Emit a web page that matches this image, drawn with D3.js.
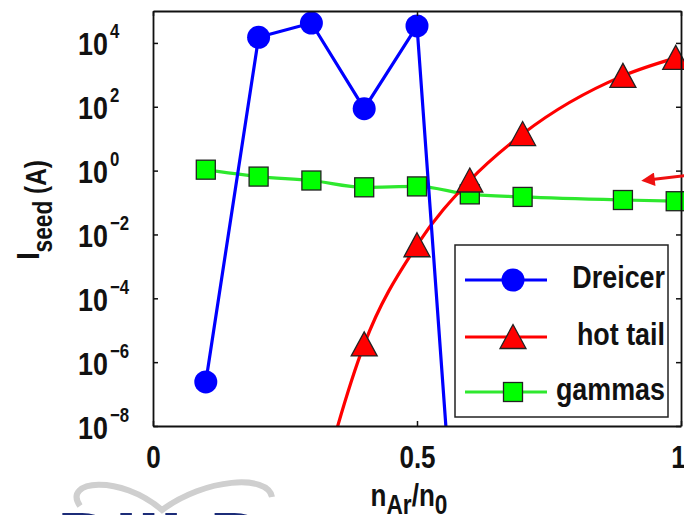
<!DOCTYPE html>
<html>
<head>
<meta charset="utf-8">
<script src="https://cdn.jsdelivr.net/npm/d3@7"></script>
<style>
  body { margin: 0; background: #fff; }
  text { font-family: "Liberation Sans Narrow", "Arial Narrow", "Liberation Sans", sans-serif; font-weight: bold; }
</style>
</head>
<body>
<svg id="chart" width="684" height="515"></svg>
<script>
// x values (n_Ar / n_0)
const dreicerX = [0.1, 0.2, 0.3, 0.4, 0.5, 0.6];
const dreicerY = [2.4e-7, 1.5e4, 4.2e4, 87, 3.4e4, 4e-19];

const hotTailX = [0.3, 0.4, 0.5, 0.6, 0.7, 0.89, 0.99];
const hotTailY = [1e-11, 3.6e-6, 4.6e-3, 0.49, 14, 930, 3400];

const gammasX = [0.1, 0.2, 0.3, 0.4, 0.5, 0.6, 0.7, 0.89, 0.99];
const gammasY = [1.07, 0.65, 0.49, 0.30, 0.32, 0.18, 0.15, 0.12, 0.11];

const xTicks = [0, 0.5, 1];
const xTickLabels = ["0", "0.5", "1"];
const yTicks = [1e-8, 1e-6, 1e-4, 1e-2, 1e0, 1e2, 1e4];
const yTickExps = ["\u22128", "\u22126", "\u22124", "\u22122", "0", "2", "4"];
const seriesNames = ["Dreicer", "hot tail", "gammas"];

// no narrow font installed, so squeeze text horizontally
const SQ = 0.84;
function place(x, y) {
    return "translate(" + x + "," + y + ") scale(" + SQ + ",1)";
}

function drawChart() {
    const margin = { top: 11, right: 3, bottom: 89, left: 153 },
        W = 684, H = 515,
        w = W - margin.left - margin.right,
        h = H - margin.top - margin.bottom;

    var svg = d3.select("#chart");

    var xScale = d3.scaleLinear().domain([0, 1]).range([0, w]);
    var yScale = d3.scaleLog().domain([1e-8, 1e5]).range([h, 0]);

    svg.append("defs").append("clipPath").attr("id", "clip")
        .append("rect").attr("width", w).attr("height", h);

    var focus = svg.append("g")
        .attr("transform", "translate(" + margin.left + "," + margin.top + ")");

    // series definitions
    const series = [
        { name: seriesNames[0], xs: dreicerX, ys: dreicerY, color: "#0000ff", curve: d3.curveLinear, marker: "circle" },
        { name: seriesNames[1], xs: hotTailX, ys: hotTailY, color: "#ff0000", curve: d3.curveMonotoneX, marker: "triangle" },
        { name: seriesNames[2], xs: gammasX, ys: gammasY, color: "#2ee82e", curve: d3.curveMonotoneX, marker: "square" }
    ];

    function drawMarker(g, type) {
        if (type == "circle") {
            g.append("circle").attr("r", 11.5).attr("fill", "#0000ff");
        } else if (type == "triangle") {
            g.append("path").attr("d", "M0,-12.5L13,11.5L-13,11.5Z")
                .attr("fill", "#ff0000").attr("stroke", "#222").attr("stroke-width", 1.3);
        } else {
            g.append("rect").attr("x", -9.5).attr("y", -9.5).attr("width", 19).attr("height", 19)
                .attr("fill", "#00ff00").attr("stroke", "#222").attr("stroke-width", 1.3);
        }
    }

    var body = focus.append("g").attr("clip-path", "url(#clip)");

    // lines (draw gammas first, then others)
    [2, 1, 0].forEach(k => {
        let s = series[k];
        let pts = s.xs.map((x, i) => [x, s.ys[i]]);
        let line = d3.line()
            .x(d => xScale(d[0]))
            .y(d => yScale(d[1]))
            .curve(s.curve);
        body.append("path")
            .datum(pts)
            .attr("d", line)
            .attr("fill", "none")
            .attr("stroke", s.color)
            .attr("stroke-width", 3.2);
    });

    // markers (not clipped, only inside the y range)
    [0, 2, 1].forEach(k => {
        let s = series[k];
        s.xs.forEach((x, i) => {
            let v = s.ys[i];
            if (v < 1e-8 || v > 1e5) return;
            let g = focus.append("g")
                .attr("transform", "translate(" + xScale(x) + "," + yScale(v) + ")");
            drawMarker(g, s.marker);
        });
    });

    // axes box with inward ticks
    var yAxisL = d3.axisLeft(yScale).tickValues(yTicks).tickSizeInner(-5).tickSizeOuter(0).tickFormat("");
    var yAxisR = d3.axisRight(yScale).tickValues(yTicks).tickSizeInner(-5).tickSizeOuter(0).tickFormat("");
    var xAxisB = d3.axisBottom(xScale).tickValues(xTicks).tickSizeInner(-5).tickSizeOuter(0)
        .tickFormat((d, i) => xTickLabels[i]);
    var xAxisT = d3.axisTop(xScale).tickValues(xTicks).tickSizeInner(-5).tickSizeOuter(0).tickFormat("");

    var gY = focus.append("g").call(yAxisL);
    focus.append("g").attr("transform", "translate(" + w + ",0)").call(yAxisR);
    var gX = focus.append("g").attr("transform", "translate(0," + h + ")").call(xAxisB);
    focus.append("g").call(xAxisT);

    focus.selectAll(".domain").attr("stroke", "#111").attr("stroke-width", 1.8);
    focus.selectAll(".tick line").attr("stroke", "#111").attr("stroke-width", 1.5);

    gX.selectAll(".tick text")
        .attr("y", null).attr("dy", null)
        .attr("transform", (d, i) => place(i == 2 ? -3 : 0, 42))
        .attr("font-size", 31).attr("fill", "#111")
        .style("font-family", null);

    // y tick labels 10^n
    gY.selectAll(".tick").each(function (d, i) {
        let t = d3.select(this);
        t.append("text")
            .attr("transform", place(-45, 12))
            .attr("text-anchor", "end")
            .attr("font-size", 32).attr("fill", "#111")
            .text("10");
        t.append("text")
            .attr("transform", place(-43, -5))
            .attr("text-anchor", "start")
            .attr("font-size", 20).attr("fill", "#111")
            .text(yTickExps[i]);
    });

    // x axis label n_Ar / n_0
    var xl = svg.append("text")
        .attr("transform", place(xScale(0.5) + margin.left - 8, 506))
        .attr("text-anchor", "middle").attr("font-size", 31).attr("fill", "#111");
    xl.append("tspan").text("n");
    xl.append("tspan").attr("dy", 8).attr("font-size", 27).text("Ar");
    xl.append("tspan").attr("dy", -8).text("/n");
    xl.append("tspan").attr("dy", 8).attr("font-size", 27).text("0");

    // y axis label I_seed (A)
    var yl = svg.append("text")
        .attr("transform", "translate(39,210) rotate(-90) scale(" + SQ + ",1)")
        .attr("text-anchor", "middle").attr("font-size", 32).attr("fill", "#111");
    yl.append("tspan").text("I");
    yl.append("tspan").attr("dy", 13).attr("font-size", 27).text("seed");
    yl.append("tspan").attr("dy", -6).attr("font-size", 29).text(" (A)");

    // legend
    var legend = svg.append("g");
    legend.append("rect")
        .attr("x", 455).attr("y", 245).attr("width", 213).attr("height", 172)
        .attr("fill", "#fff").attr("stroke", "#222").attr("stroke-width", 1.5);
    const legendY = [280, 337, 392];
    series.forEach((s, i) => {
        let ly = legendY[i];
        legend.append("line")
            .attr("x1", 465).attr("x2", 547).attr("y1", ly).attr("y2", ly)
            .attr("stroke", s.color).attr("stroke-width", 3.2);
        let g = legend.append("g").attr("transform", "translate(513," + ly + ")");
        drawMarker(g, s.marker);
        legend.append("text")
            .attr("transform", place(665, ly + 8))
            .attr("text-anchor", "end").attr("font-size", 32).attr("fill", "#111")
            .text(s.name);
    });

    // red arrow annotation at right edge
    svg.append("defs").append("marker")
        .attr("id", "arrowhead").attr("viewBox", "0 0 10 10")
        .attr("refX", 2).attr("refY", 5)
        .attr("markerWidth", 5).attr("markerHeight", 4.5)
        .attr("orient", "auto")
        .append("path").attr("d", "M0,0L10,5L0,10Z").attr("fill", "#ee1111");
    svg.append("line")
        .attr("x1", 690).attr("y1", 175).attr("x2", 652).attr("y2", 179.5)
        .attr("stroke", "#ee1111").attr("stroke-width", 3)
        .attr("marker-end", "url(#arrowhead)");

    // logo fragment at the bottom left
    svg.append("path")
        .attr("d", "M80,506 C62,480 120,474 162,510 C205,478 268,474 272,497")
        .attr("fill", "none").attr("stroke", "#cfcfcf").attr("stroke-width", 6);
    svg.append("text")
        .attr("x", 57).attr("y", 568)
        .attr("font-size", 80).attr("fill", "#1c2c78")
        .style("font-family", "'Liberation Sans', sans-serif")
        .attr("textLength", 210)
        .text("DIII-D");
}

drawChart();
</script>
</body>
</html>
